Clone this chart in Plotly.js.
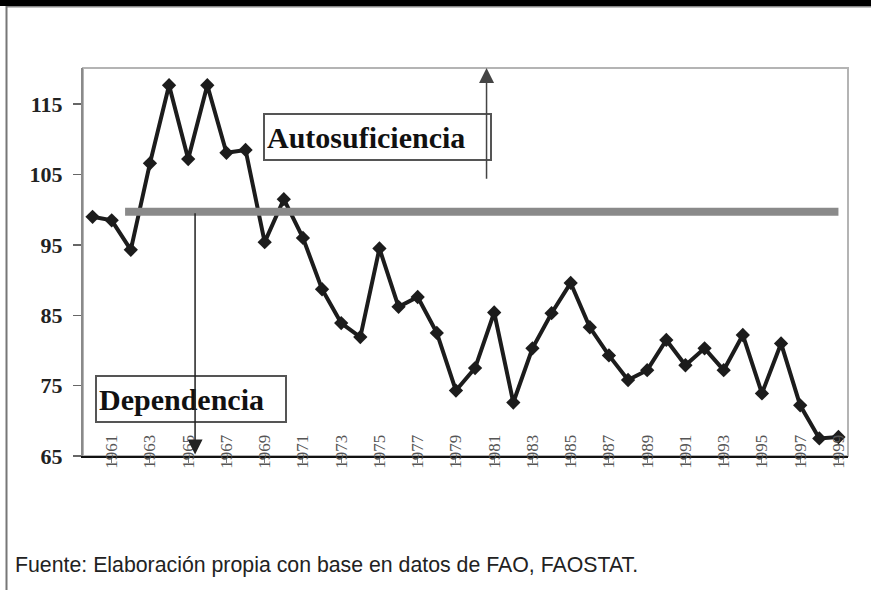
<!DOCTYPE html>
<html>
<head>
<meta charset="utf-8">
<script src="https://cdn.plot.ly/plotly-3.0.1.min.js"></script>
<style>
html,body{margin:0;padding:0;background:#fff;}
#chart{width:871px;height:590px;}
</style>
</head>
<body>
<div id="chart"></div>
<script>
const years = ["1960","1961","1962","1963","1964","1965","1966","1967","1968","1969",
               "1970","1971","1972","1973","1974","1975","1976","1977","1978","1979",
               "1980","1981","1982","1983","1984","1985","1986","1987","1988","1989",
               "1990","1991","1992","1993","1994","1995","1996","1997","1998","1999"];
const values = [99.0, 98.5, 94.3, 106.6, 117.7, 107.2, 117.7, 108.1, 108.5, 95.4,
                101.5, 96.0, 88.7, 83.9, 81.9, 94.5, 86.2, 87.6, 82.5, 74.3,
                77.5, 85.4, 72.6, 80.3, 85.3, 89.6, 83.3, 79.3, 75.8, 77.2,
                81.5, 77.9, 80.3, 77.2, 82.2, 73.9, 81.0, 72.2, 67.5, 67.7];
const yTicks = [65, 75, 85, 95, 105, 115];
const selfSufficiencyLevel = 99.7;
const labelUp = "Autosuficiencia";
const labelDown = "Dependencia";
const sourceNote = "Fuente: Elaboración propia con base en datos de FAO, FAOSTAT.";

const serif = "Liberation Serif, Times New Roman, serif";

const trace = {
  x: years, y: values, type: "scatter", mode: "lines+markers",
  line: {color: "#1c1c1c", width: 4},
  marker: {symbol: "diamond", size: 11, color: "#1c1c1c"},
  hoverinfo: "x+y", showlegend: false
};

const layout = {
  width: 871, height: 590,
  margin: {l: 83, r: 23, t: 68, b: 134.3},
  paper_bgcolor: "#ffffff", plot_bgcolor: "#ffffff",
  showlegend: false,
  xaxis: {
    type: "category", range: [-0.5, 39.5],
    tickmode: "linear", tick0: 1, dtick: 2,
    tickangle: -90,
    ticks: "outside", ticklen: 5, tickcolor: "#777", tickwidth: 1,
    ticklabelstandoff: -35,
    tickfont: {family: serif, size: 17, color: "#555"},
    showline: true, linecolor: "#111", linewidth: 2,
    showgrid: false, zeroline: false, fixedrange: true
  },
  yaxis: {
    range: [65, 120.15],
    tickvals: yTicks, ticktext: yTicks.map(String),
    ticks: "outside", ticklen: 8, tickcolor: "#666", tickwidth: 1.5,
    ticklabelstandoff: 6,
    tickfont: {family: serif, size: 22, color: "#222", weight: "bold"},
    showline: true, linecolor: "#8a8a8a", linewidth: 2,
    showgrid: false, zeroline: false, fixedrange: true
  },
  shapes: [
    {type: "rect", xref: "paper", yref: "paper", x0: 0, x1: 1, y0: 0, y1: 1,
     line: {color: "#b4b4b4", width: 2}, layer: "below"},
    {type: "line", xref: "x", yref: "y", x0: 1.7, x1: 39.0,
     y0: selfSufficiencyLevel, y1: selfSufficiencyLevel,
     line: {color: "#8a8a8a", width: 8}, layer: "above"},
    {type: "rect", xref: "paper", yref: "paper", x0: -0.2, x1: 1.2,
     y0: 1.16, y1: 1.3, fillcolor: "#000", line: {width: 0}},
    {type: "line", xref: "paper", yref: "paper", x0: -0.1, x1: 1.2,
     y0: 1.158, y1: 1.158, line: {color: "#888", width: 1.5}},
    {type: "line", xref: "paper", yref: "paper", x0: -0.1, x1: -0.1,
     y0: -0.4, y1: 1.16, line: {color: "#777", width: 2}}
  ],
  annotations: [
    {xref: "paper", yref: "paper", x: 0.385, y: 0.822, xanchor: "center", yanchor: "middle",
     text: "<b>" + labelUp + "</b>", showarrow: false, align: "left",
     width: 221, height: 40, borderpad: 2, borderwidth: 2, bordercolor: "#555",
     bgcolor: "#fff", font: {family: serif, size: 30, color: "#111"}},
    {xref: "paper", yref: "paper", x: 0.141, y: 0.1475, xanchor: "center", yanchor: "middle",
     text: "<b>" + labelDown + "</b>", showarrow: false, align: "left",
     width: 184, height: 40, borderpad: 2, borderwidth: 2, bordercolor: "#555",
     bgcolor: "#fff", font: {family: serif, size: 30, color: "#111"}},
    {xref: "x", yref: "y", axref: "x", ayref: "y",
     x: 5.36, y: 65.2, ax: 5.36, ay: selfSufficiencyLevel,
     text: "", showarrow: true, arrowhead: 2, arrowsize: 2, arrowwidth: 1.5, arrowcolor: "#222"},
    {xref: "x", yref: "y", axref: "x", ayref: "y",
     x: 20.6, y: 120.15, ax: 20.6, ay: 104.2,
     text: "", showarrow: true, arrowhead: 2, arrowsize: 2, arrowwidth: 1.5, arrowcolor: "#444"},
    {xref: "paper", yref: "paper", x: -0.092, y: -0.282, xanchor: "left", yanchor: "middle",
     text: sourceNote, showarrow: false, align: "left",
     font: {family: "Liberation Sans, Arial, sans-serif", size: 21.3, color: "#222"}}
  ]
};

Plotly.newPlot("chart", [trace], layout, {displayModeBar: false, staticPlot: true});
</script>
</body>
</html>
